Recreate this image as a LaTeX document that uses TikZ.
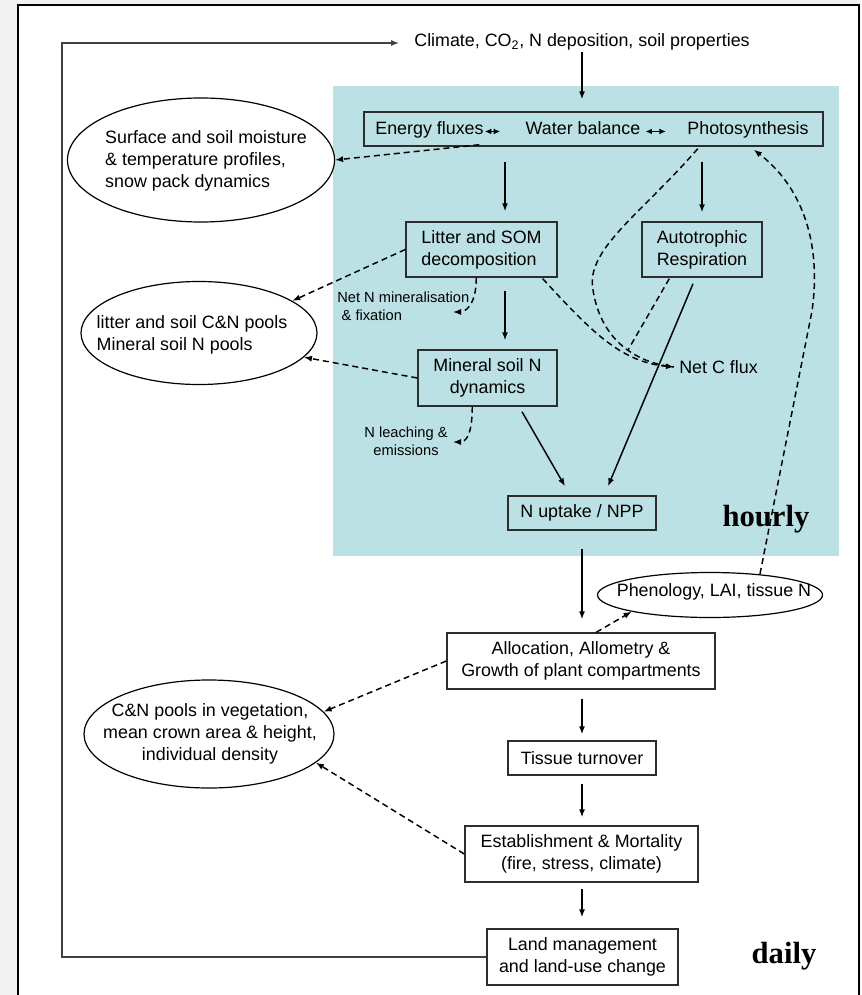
\documentclass[tikz,border=0pt]{standalone}
\usepackage{fontspec}
\setmainfont{Liberation Sans}
\newfontfamily\serifbf{Liberation Serif}
\usetikzlibrary{arrows.meta,shapes.geometric,calc}
\definecolor{tealbg}{RGB}{187,225,228}
\definecolor{bordc}{RGB}{45,45,45}
\definecolor{pagebg}{RGB}{242,242,242}
\begin{document}
\begin{tikzpicture}[x=0.75pt,y=-0.75pt,
  font=\fontsize{13.4}{16.5}\selectfont,
  box/.style={draw=bordc,line width=1.1pt,inner sep=0pt,align=center},
  ell/.style={draw=black,ellipse,line width=0.9pt,inner sep=0pt,fill=white},
  lbl/.style={inner sep=0pt,align=center},
  small/.style={font=\fontsize{11}{13.5}\selectfont},
  arr/.style={line width=1.1pt,-{Latex[length=6pt,width=4.6pt]}},
  darr/.style={line width=1.1pt,dash pattern=on 4.5pt off 3pt,-{Latex[length=6pt,width=4.6pt]}},
  dln/.style={line width=1.1pt,dash pattern=on 4.5pt off 3pt},
  dbl/.style={line width=0.9pt,{Latex[length=4.8pt,width=4.4pt]}-{Latex[length=4.8pt,width=4.4pt]}},
  timetag/.style={inner sep=0pt,font=\serifbf\bfseries\fontsize{23}{26}\selectfont}
]
\useasboundingbox (0,0) rectangle (861,995);
% page and frame
\fill[pagebg] (0,0) rectangle (861,995);
\fill[white] (18,5) rectangle (859,1000);
\draw[line width=1.5pt] (18,1000) -- (18,5) -- (859,5) -- (859,1000);
% hourly region
\fill[tealbg] (333,86) rectangle (839,556);

% nodes
\node[lbl] (climate) at (582,42) {Climate, CO\textsubscript{2}, N deposition, soil properties};

\node[box,minimum width=344.25pt,minimum height=25.5pt] (ebox) at (593.5,129) {};
\node[lbl,anchor=base] (ef) at (429.5,135) {Energy fluxes};
\node[lbl,anchor=base] (wb) at (583,135) {Water balance};
\node[lbl,anchor=base] (ph) at (748,135) {Photosynthesis};

\node[box,align=left,minimum width=113.25pt,minimum height=41.25pt] (litter) at (481.5,249.5) {Litter and SOM\\decomposition};
\node[box,align=left,minimum width=90pt,minimum height=41.25pt] (auto) at (702,249.5) {Autotrophic\\Respiration};
\node[box,minimum width=104.25pt,minimum height=42pt] (mineral) at (487.5,378) {Mineral soil N\\dynamics};
\node[box,minimum width=111pt,minimum height=25.5pt] (nup) at (582,513) {N uptake / NPP};
\node[box,minimum width=201pt,minimum height=42pt,fill=white] (alloc) at (581,661) {Allocation, Allometry \&\\Growth of plant compartments};
\node[box,minimum width=111pt,minimum height=25.5pt] (tissue) at (582,758) {Tissue turnover};
\node[box,minimum width=174.75pt,minimum height=42pt] (estab) at (581.5,854) {Establishment \& Mortality\\(fire, stress, climate)};
\node[box,minimum width=143.25pt,minimum height=42pt] (land) at (582.5,957) {Land management\\and land-use change};

\node[ell,minimum width=200.25pt,minimum height=93pt] (ell1) at (201,160) {};
\node[lbl,align=left] (ell1t) at (206,161) {Surface and soil moisture\\\& temperature profiles,\\snow pack dynamics};
\node[ell,minimum width=177pt,minimum height=77.25pt] (ell2) at (199,333) {};
\node[lbl,align=left] (ell2t) at (192,335) {litter and soil C\&N pools\\Mineral soil N pools};
\node[ell,minimum width=187.5pt,minimum height=81pt] (ell3) at (209,734) {};
\node[lbl] (ell3t) at (210,734) {C\&N pools in vegetation,\\mean crown area \& height,\\individual density};
\node[ell,minimum width=168.75pt,minimum height=33.75pt] (pheno) at (710,595) {};
\node[lbl] (phenot) at (714,592) {Phenology, LAI, tissue N};

\node[lbl,small,align=left,anchor=west] (nmin) at (337,306) {Net N mineralisation\\\hspace*{0.3em}\& fixation};
\node[lbl,small] (nleach) at (406,441) {N leaching \&\\emissions};
\node[lbl,anchor=west] (cflux) at (679,367) {Net C flux};

\node[timetag] (hourly) at (766,519) {hourly};
\node[timetag] (daily) at (784,956) {daily};

% double arrows inside the energy box
\draw[dbl,shorten <=0.75pt,shorten >=19pt] (ef.mid east) -- (wb.mid west);
\draw[dbl,shorten <=3.75pt,shorten >=16pt] (wb.mid east) -- (ph.mid west);

% solid flow arrows
\draw[arr,shorten <=1pt,shorten >=9pt] (climate.south) -- (climate.south |- ebox.north);
\draw[arr] ($(litter.north)+(23.5,-59)$) -- ($(litter.north)+(23.5,-10)$);
\draw[arr] ($(auto.north)+(0,-59)$) -- ($(auto.north)+(0,-9)$);
\draw[arr] ($(litter.south)+(23.5,13)$) -- ($(mineral.north)+(17.5,-9)$);
\draw[arr] ($(mineral.south)+(34.5,5)$) -- ($(nup.north)+(-17,-9)$);
\draw[arr] ($(auto.south)+(-9,6)$) -- ($(nup.north)+(26,-9)$);
\draw[arr] ($(nup.south)+(0,18)$) -- ($(alloc.north)+(1,-13)$);
\draw[arr] ($(alloc.south)+(1,9)$) -- ($(tissue.north)+(0,-6)$);
\draw[arr] ($(tissue.south)+(0,8)$) -- ($(estab.north)+(0.5,-8)$);
\draw[arr] ($(estab.south)+(0.5,6)$) -- ($(land.north)+(-0.5,-11)$);

% feedback loop
\coordinate (fbk) at (62,43);
\draw[line width=1.1pt,draw=black!75,-{Latex[length=6pt,width=4.6pt]}] (land.west) -| (fbk) -- ($(climate.west |- fbk)+(-15,0)$);

% dashed arrows to pools
\draw[darr] ($(ebox.south west)+(116,-2)$) -- (ell1.east);
\draw[darr] (litter.west) -- (ell2.19);
\draw[darr] (mineral.west) -- (ell2.-13);
\draw[darr] (alloc.west) -- (ell3.11);
\draw[darr] (estab.west) -- (ell3.-15);
\draw[darr] ($(alloc.north west)+(150,0)$) -- (pheno.192);

% small curved arrows
\coordinate (nminend) at (453,312);
\draw[darr] ($(litter.south west)+(71,0)$) .. controls +(0,28) and +(12,0) .. (nminend);
\coordinate (nleachend) at (453,442);
\draw[darr] ($(mineral.south west)+(55,0)$) .. controls +(0,30) and +(12,0) .. (nleachend);

% net C flux
\coordinate (ctip) at ($(cflux.west)+(-5,0)$);
\coordinate (cm) at (628,350);
\draw[darr] ($(litter.south east)+(-15,1)$) .. controls (590,330) and (620,362) .. (ctip);
\draw[dln] ($(ebox.south east)+(-126,2)$) .. controls (640,215) and (585,250) .. (593,290) .. controls (600,335) and (630,362) .. (ctip);
\draw[dln] ($(auto.south west)+(28,1)$) -- (cm);

% phenology feedback to photosynthesis
\draw[darr] ($(pheno.north)+(50,2)$) -- ++(52,-263) .. controls +(10,-70) and +(47,36) .. ($(ebox.south east)+(-70,3)$);
\end{tikzpicture}
\end{document}
